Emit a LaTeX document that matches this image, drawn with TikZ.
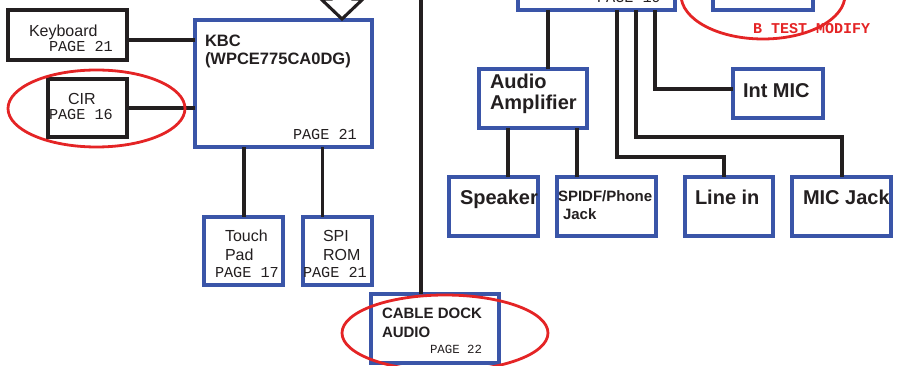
\documentclass[tikz,border=0pt]{standalone}
\usepackage{fontspec}
\setmainfont{Liberation Sans}
\setmonofont{Liberation Mono}
\definecolor{bxblue}{HTML}{3A55A8}
\definecolor{ringred}{HTML}{E42425}
\definecolor{ink}{HTML}{231F20}
\begin{document}
\begin{tikzpicture}[x=1pt,y=-1pt,
  bluebox/.style={draw=bxblue,line width=3.1pt,fill=white,rectangle,inner sep=0pt,outer sep=0pt},
  blackbox/.style={draw=ink,line width=3.1pt,fill=white,rectangle,inner sep=0pt,outer sep=0pt},
  wire/.style={draw=ink,line width=3.1pt},
  ring/.style={draw=ringred,line width=2.8pt},
  txt/.style={anchor=base west,inner sep=0pt,outer sep=0pt,text=ink},
  reg/.style={txt,font=\fontsize{16}{18}\selectfont},
  bld/.style={txt,font=\fontsize{#1}{#1}\selectfont\bfseries},
  pg/.style={txt,font=\fontsize{#1}{#1}\selectfont\ttfamily},
]
\useasboundingbox (0,0) rectangle (900,366);
\clip (0,0) rectangle (900,366);

% connector anchor points
\coordinate (topv) at (421,-20);
\coordinate (ca) at (548,10);
\coordinate (cb) at (617,10);
\coordinate (cc) at (636,10);
\coordinate (cdd) at (655,10);
\coordinate (lb) at (724,157);
\coordinate (mb) at (842,137);
\coordinate (ib) at (655,89);

% boxes
\node[blackbox,minimum width=119pt,minimum height=50pt] (kb) at (67.5,35) {};
\node[blackbox,minimum width=79pt,minimum height=58pt] (cir) at (87.5,108) {};
\node[bluebox,minimum width=177pt,minimum height=127pt] (kbc) at (283.5,83.5) {};
\node[bluebox,minimum width=79pt,minimum height=68pt] (tp) at (243.5,251) {};
\node[bluebox,minimum width=69pt,minimum height=68pt] (spi) at (337.5,251) {};
\node[bluebox,minimum width=128pt,minimum height=69pt] (cdk) at (435,328.5) {};
\node[bluebox,minimum width=157pt,minimum height=50pt] (codec) at (596.5,-15) {};
\node[bluebox,minimum width=100pt,minimum height=50pt] (tbx) at (763,-15) {};
\node[bluebox,minimum width=108pt,minimum height=59pt] (amp) at (533,98.5) {};
\node[bluebox,minimum width=90pt,minimum height=49pt] (mic) at (778,93.5) {};
\node[bluebox,minimum width=89pt,minimum height=59pt] (spk) at (493.5,206.5) {};
\node[bluebox,minimum width=99pt,minimum height=59pt] (spdif) at (606.5,206.5) {};
\node[bluebox,minimum width=88pt,minimum height=59pt] (li) at (729,206.5) {};
\node[bluebox,minimum width=99pt,minimum height=59pt] (mj) at (841.5,206.5) {};

\path ([yshift=-5pt]kb.east) coordinate (kbw);
\path ([xshift=0.5pt]tp.north) coordinate (tpn);
\path ([xshift=-15pt]spi.north) coordinate (spn);
\path ([xshift=-25pt]amp.south) coordinate (a1);
\path ([xshift=44pt]amp.south) coordinate (a2);

\draw[wire] (kbw) -- (kbw -| kbc.west);
\draw[wire] (cir.east) -- (cir.east -| kbc.west);
\draw[wire] (tpn |- kbc.south) -- (tpn);
\draw[wire] (spn |- kbc.south) -- (spn);
\draw[wire] (topv) -- (topv |- cdk.north);
\draw[wire] (ca) -- (ca |- amp.north);
\draw[wire] (cb) |- (lb) -- (lb |- li.north);
\draw[wire] (cc) |- (mb) -- (mb |- mj.north);
\draw[wire] (cdd) -- (ib) -- (ib -| mic.west);
\draw[wire] (a1) -- (a1 |- spk.north);
\draw[wire] (a2) -- (a2 |- spdif.north);

% hollow arrow into KBC
\coordinate (arrtip) at (342,19);
\draw[draw=ink,line width=3.1pt,fill=white,line join=miter]
  (331,-30) -- (331,-1) -- (321,-1) -- (arrtip) -- (363,-1) -- (353,-1) -- (353,-30);

% texts
\node[reg] (t1) at (29,36.5) {Keyboard};
\node[pg=15.2] (t2) at (49,52) {PAGE 21};
\node[reg] (t3) at (68,105) {CIR};
\node[pg=15.2] (t4) at (49,120) {PAGE 16};
\node[bld=16.5] (t5) at (205,46.7) {KBC};
\node[bld=16.5] (t6) at (205,65) {(WPCE775CA0DG)};
\node[pg=15.2] (t7) at (293,140) {PAGE 21};
\node[reg] (t8) at (225,242) {Touch};
\node[reg] (t9) at (225,260.7) {Pad};
\node[pg=15.2] (t10) at (215,277) {PAGE 17};
\node[reg] (t11) at (323,242) {SPI};
\node[reg] (t12) at (323,260.7) {ROM};
\node[pg=15.2] (t13) at (303,277) {PAGE 21};
\node[bld=15] (t14) at (382,319) {CABLE DOCK};
\node[bld=15] (t15) at (382,337) {AUDIO};
\node[pg=12.4] (t16) at (430,353.5) {PAGE 22};
\node[pg=15.2] (t17) at (597,2.5) {PAGE 19};
\node[txt,text=ringred,font=\fontsize{15}{15}\selectfont\ttfamily\bfseries] (t18) at (753,33.3) {B TEST MODIFY};
\node[bld=20] (t19) at (490,88.3) {Audio};
\node[bld=20] (t20) at (490,110) {Amplifier};
\node[bld=20] (t21) at (743,97.3) {Int MIC};
\node[bld=20] (t22) at (460,205) {Speaker};
\node[bld=15] (t23) at (558,201.7) {SPIDF/Phone};
\node[bld=15] (t24) at (563,220) {Jack};
\node[bld=20] (t25) at (695,205) {Line in};
\node[bld=20] (t26) at (803,205) {MIC Jack};

% red rings
\draw[ring] (96.5,108.5) ellipse [x radius=88.5, y radius=38.5];
\draw[ring] (445,333) ellipse [x radius=103, y radius=38];
\draw[ring] (763,-5) ellipse [x radius=82, y radius=44];
\end{tikzpicture}
\end{document}
